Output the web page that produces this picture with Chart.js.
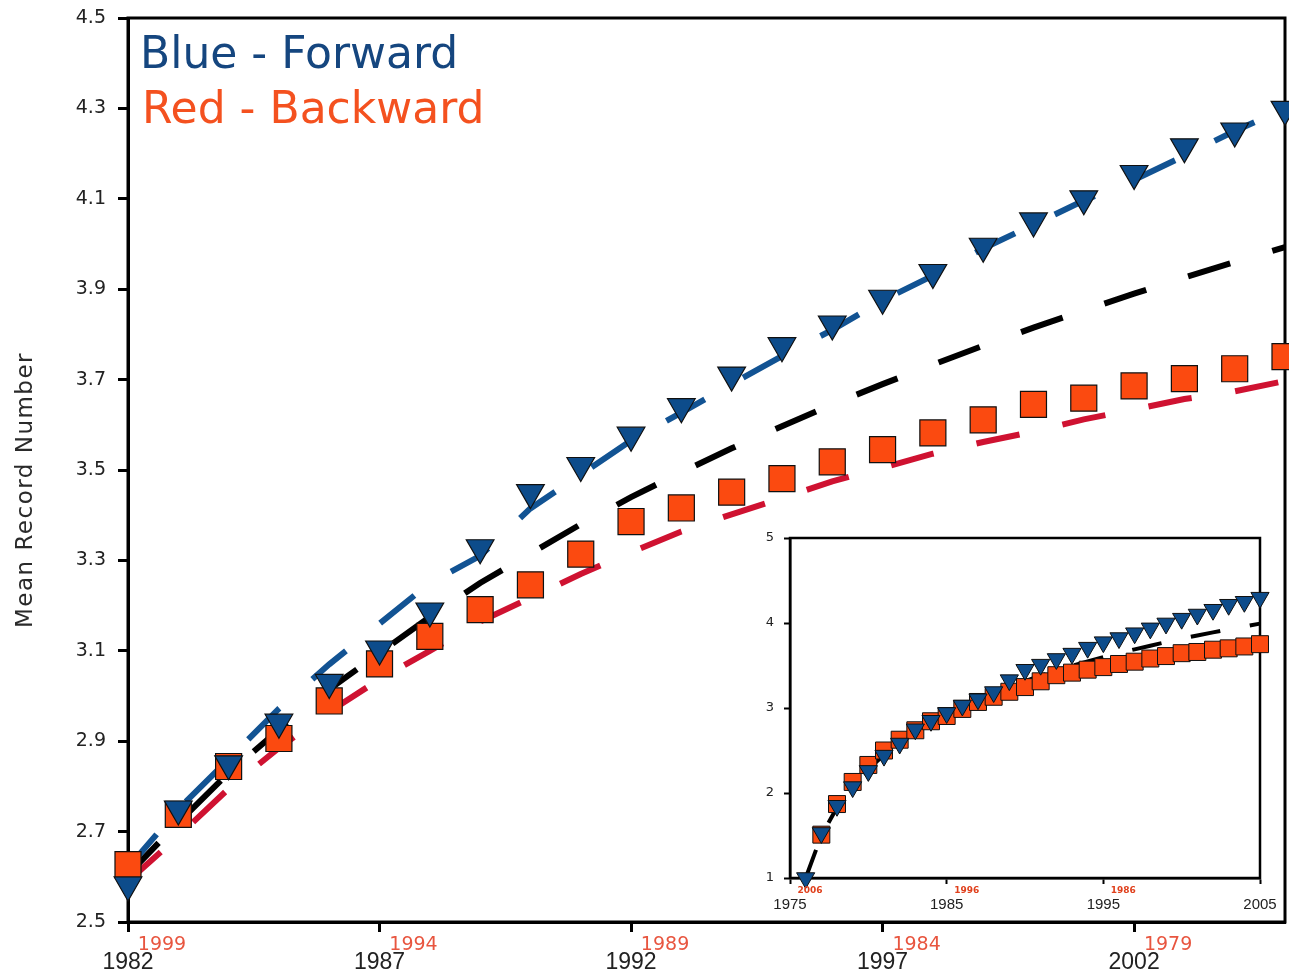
<!DOCTYPE html>
<html>
<head>
<meta charset="utf-8">
<script src="https://cdn.jsdelivr.net/npm/chart.js@4.4.1/dist/chart.umd.min.js"></script>
<style>
  html, body { margin: 0; padding: 0; background: #ffffff; }
  #wrap { position: relative; width: 1289px; height: 977px; overflow: hidden; }
  #main { position: absolute; left: 0; top: 0; }
  #inset { position: absolute; left: 745px; top: 528px; }
</style>
</head>
<body>
<div id="wrap">
  <canvas id="main" width="1289" height="977"></canvas>
  <canvas id="inset" width="542" height="387"></canvas>
</div>
<script>
// ---- main panel: 1982-2005 ----
const years = [1982, 1983, 1984, 1985, 1986, 1987, 1988, 1989, 1990, 1991, 1992, 1993,
               1994, 1995, 1996, 1997, 1998, 1999, 2000, 2001, 2002, 2003, 2004, 2005];

// mean record number counted forward in time (blue triangles)
const forwardMean = [2.582, 2.750, 2.850, 2.942, 3.030, 3.104, 3.188, 3.328, 3.450, 3.510, 3.577, 3.640,
                     3.710, 3.775, 3.823, 3.880, 3.937, 3.995, 4.051, 4.100, 4.156, 4.215, 4.250, 4.298];
// mean record number counted backward in time (red squares)
const backwardMean = [2.627, 2.738, 2.844, 2.906, 2.989, 3.071, 3.132, 3.191, 3.246, 3.314, 3.386, 3.416,
                      3.451, 3.481, 3.518, 3.545, 3.582, 3.611, 3.645, 3.659, 3.686, 3.702, 3.724, 3.751];
// dashed reference curves
const forwardCurve = [2.620, 2.750, 2.860, 2.972, 3.070, 3.160, 3.250, 3.310, 3.415, 3.490, 3.565, 3.627,
                      3.690, 3.752, 3.810, 3.875, 3.930, 3.990, 4.043, 4.096, 4.142, 4.195, 4.250, 4.300];
const stationaryCurve = [2.605, 2.720, 2.830, 2.925, 3.015, 3.095, 3.175, 3.250, 3.315, 3.380, 3.440, 3.495,
                         3.548, 3.597, 3.645, 3.690, 3.733, 3.775, 3.815, 3.853, 3.890, 3.926, 3.960, 3.993];
const backwardCurve = [2.590, 2.690, 2.795, 2.885, 2.965, 3.037, 3.100, 3.165, 3.217, 3.270, 3.318, 3.364,
                       3.402, 3.438, 3.475, 3.505, 3.536, 3.562, 3.585, 3.612, 3.634, 3.657, 3.674, 3.697];

const yearTicks = [1982, 1987, 1992, 1997, 2002];
const reverseYearLabels = ['1999', '1994', '1989', '1984', '1979'];
const valueTicks = [2.5, 2.7, 2.9, 3.1, 3.3, 3.5, 3.7, 3.9, 4.1, 4.3, 4.5];

// ---- inset: full record 1976-2005 ----
const insetEarlyYears = [1976, 1977, 1978, 1979, 1980, 1981];
const insetEarlyForward = [1.00, 1.53, 1.85, 2.07, 2.26, 2.44];
const insetEarlyBackward = [null, 1.51, 1.87, 2.13, 2.33, 2.50];
const insetEarlyStationary = [1.00, 1.50, 1.83, 2.08, 2.28, 2.45];
const insetYearTicks = [1975, 1985, 1995, 2005];
const insetReverseLabels = ['2006', '1996', '1986'];
const insetValueTicks = [1, 2, 3, 4, 5];

const BLUE_FILL = '#0d4c8b';
const BLUE_LINE = '#125393';
const RED_FILL = '#fb4a10';
const RED_LINE = '#cf1231';
const MARK_EDGE = '#101010';

const pairs = (xs, ys) => xs.map((x, i) => ({ x: x, y: ys[i] }));

// keep the plot box exactly where the layout padding puts it
const noEdgePadding = (s) => {
  s.paddingLeft = 0; s.paddingRight = 0; s.paddingTop = 0; s.paddingBottom = 0;
};

// ---------- main chart ----------
const mainDecor = {
  id: 'mainDecor',
  beforeDatasetsDraw(chart) {
    const { ctx, chartArea: a } = chart;
    ctx.save();
    ctx.strokeStyle = '#000';
    ctx.lineWidth = 3;
    ctx.strokeRect(a.left, a.top, a.right - a.left, a.bottom - a.top);
    ctx.restore();
  },
  afterDraw(chart) {
    const { ctx } = chart;
    const xs = chart.scales.x;
    ctx.save();
    // reversed-year labels beside the bottom ticks
    ctx.fillStyle = '#e8553f';
    ctx.font = '19px "DejaVu Sans"';
    ctx.textAlign = 'center';
    ctx.textBaseline = 'middle';
    yearTicks.forEach((t, i) => {
      ctx.fillText(reverseYearLabels[i], xs.getPixelForValue(t) + 34, 945);
    });
    // y-axis title
    ctx.save();
    ctx.translate(26, 490);
    ctx.rotate(-Math.PI / 2);
    ctx.fillStyle = '#2a2a2a';
    ctx.font = '23px "DejaVu Sans"';
    if ('letterSpacing' in ctx) ctx.letterSpacing = '1.5px';
    ctx.textAlign = 'center';
    ctx.textBaseline = 'middle';
    ctx.fillText('Mean Record Number', 0, 0);
    ctx.restore();
    // key text
    ctx.textAlign = 'left';
    ctx.textBaseline = 'alphabetic';
    ctx.font = '44px "DejaVu Sans"';
    ctx.fillStyle = '#15467f';
    ctx.fillText('Blue - Forward', 140, 68);
    ctx.fillStyle = '#f4511f';
    ctx.fillText('Red - Backward', 142, 123);
    ctx.restore();
  }
};

new Chart(document.getElementById('main'), {
  type: 'line',
  data: {
    datasets: [
      {
        data: pairs(years, forwardMean), order: 0, showLine: false, clip: false,
        pointStyle: 'triangle', pointRotation: 180, pointRadius: 16,
        pointBackgroundColor: BLUE_FILL, pointBorderColor: MARK_EDGE, pointBorderWidth: 1.2
      },
      {
        data: pairs(years, backwardMean), order: 1, showLine: false, clip: false,
        pointStyle: 'rect', pointRadius: 18.4,
        pointBackgroundColor: RED_FILL, pointBorderColor: MARK_EDGE, pointBorderWidth: 1.2
      },
      {
        data: pairs(years, forwardCurve), order: 2, pointRadius: 0, clip: false,
        borderColor: BLUE_LINE, borderWidth: 6, borderDash: [44, 44], borderCapStyle: 'butt', tension: 0
      },
      {
        data: pairs(years, stationaryCurve), order: 3, pointRadius: 0, clip: false,
        borderColor: '#000000', borderWidth: 6, borderDash: [44, 44], borderCapStyle: 'butt', tension: 0
      },
      {
        data: pairs(years, backwardCurve), order: 4, pointRadius: 0, clip: false,
        borderColor: RED_LINE, borderWidth: 6, borderDash: [44, 44], borderCapStyle: 'butt', tension: 0
      }
    ]
  },
  options: {
    responsive: false,
    devicePixelRatio: 1,
    animation: false,
    events: [],
    layout: { autoPadding: false, padding: { top: 18, right: 4, left: 0, bottom: 0 } },
    plugins: { legend: { display: false }, tooltip: { enabled: false } },
    scales: {
      x: {
        type: 'linear', min: 1982, max: 2005,
        afterBuildTicks: (s) => { s.ticks = yearTicks.map(v => ({ value: v })); },
        afterFit: (s) => { s.height = 55; noEdgePadding(s); },
        grid: { display: true, drawOnChartArea: false, drawTicks: true, tickLength: 10, tickWidth: 3, tickColor: '#000' },
        border: { display: true, width: 3, color: '#000' },
        ticks: {
          autoSkip: false, maxRotation: 0, padding: 17, color: '#222',
          font: { family: 'Liberation Sans', size: 23 },
          callback: (v) => String(v)
        }
      },
      y: {
        type: 'linear', min: 2.5, max: 4.5,
        afterBuildTicks: (s) => { s.ticks = valueTicks.map(v => ({ value: v })); },
        afterFit: (s) => { s.width = 128; noEdgePadding(s); },
        grid: { display: true, drawOnChartArea: false, drawTicks: true, tickLength: 10, tickWidth: 3, tickColor: '#000' },
        border: { display: true, width: 3, color: '#000' },
        ticks: {
          autoSkip: false, padding: 12, color: '#222',
          font: { family: 'DejaVu Sans', size: 19 },
          callback: (v) => Number(v).toFixed(1)
        }
      }
    }
  },
  plugins: [mainDecor]
});

// ---------- inset chart ----------
const insetYears = insetEarlyYears.concat(years);
const insetForward = insetEarlyForward.concat(forwardMean);
const insetBackward = insetEarlyBackward.concat(backwardMean);
const insetStationary = insetEarlyStationary.concat(stationaryCurve);

const insetDecor = {
  id: 'insetDecor',
  beforeDatasetsDraw(chart) {
    const { ctx, chartArea: a } = chart;
    ctx.save();
    ctx.strokeStyle = '#000';
    ctx.lineWidth = 2.5;
    ctx.strokeRect(a.left, a.top, a.right - a.left, a.bottom - a.top);
    ctx.restore();
  },
  afterDraw(chart) {
    const { ctx } = chart;
    const xs = chart.scales.x;
    ctx.save();
    ctx.fillStyle = '#e0401c';
    ctx.font = 'bold 9px "DejaVu Sans"';
    ctx.textAlign = 'center';
    ctx.textBaseline = 'middle';
    insetReverseLabels.forEach((lab, i) => {
      ctx.fillText(lab, xs.getPixelForValue(insetYearTicks[i]) + 20, 363);
    });
    ctx.restore();
  }
};

new Chart(document.getElementById('inset'), {
  type: 'line',
  data: {
    datasets: [
      {
        data: pairs(insetYears, insetForward), order: 0, showLine: false, clip: false,
        pointStyle: 'triangle', pointRotation: 180, pointRadius: 10.5,
        pointBackgroundColor: BLUE_FILL, pointBorderColor: MARK_EDGE, pointBorderWidth: 1
      },
      {
        data: pairs(insetYears, insetBackward), order: 1, showLine: false, clip: false,
        pointStyle: 'rect', pointRadius: 12,
        pointBackgroundColor: RED_FILL, pointBorderColor: MARK_EDGE, pointBorderWidth: 1
      },
      {
        data: pairs(insetYears, insetStationary), order: 2, pointRadius: 0, clip: false,
        borderColor: '#000000', borderWidth: 4, borderDash: [30, 30], borderCapStyle: 'butt', tension: 0
      }
    ]
  },
  options: {
    responsive: false,
    devicePixelRatio: 1,
    animation: false,
    events: [],
    layout: { autoPadding: false, padding: { top: 10, right: 27, left: 0, bottom: 0 } },
    plugins: { legend: { display: false }, tooltip: { enabled: false } },
    scales: {
      x: {
        type: 'linear', min: 1975, max: 2005,
        afterBuildTicks: (s) => { s.ticks = insetYearTicks.map(v => ({ value: v })); },
        afterFit: (s) => { s.height = 37; noEdgePadding(s); },
        grid: { display: true, drawOnChartArea: false, drawTicks: true, tickLength: 6, tickWidth: 2, tickColor: '#000' },
        border: { display: true, width: 2.5, color: '#000' },
        ticks: {
          autoSkip: false, maxRotation: 0, padding: 12, color: '#222',
          font: { family: 'Liberation Sans', size: 15 },
          callback: (v) => String(v)
        }
      },
      y: {
        type: 'linear', min: 1, max: 5,
        afterBuildTicks: (s) => { s.ticks = insetValueTicks.map(v => ({ value: v })); },
        afterFit: (s) => { s.width = 45; noEdgePadding(s); },
        grid: { display: true, drawOnChartArea: false, drawTicks: true, tickLength: 6, tickWidth: 2, tickColor: '#000' },
        border: { display: true, width: 2.5, color: '#000' },
        ticks: {
          autoSkip: false, padding: 10, color: '#222',
          font: { family: 'DejaVu Sans', size: 13 },
          callback: (v) => String(v)
        }
      }
    }
  },
  plugins: [insetDecor]
});
</script>
</body>
</html>
